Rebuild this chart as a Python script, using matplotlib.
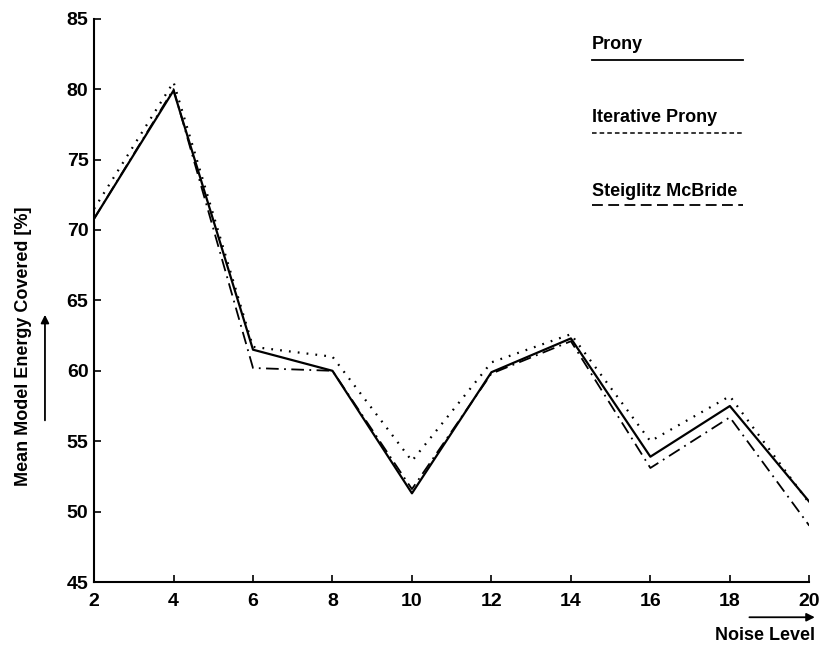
import matplotlib
matplotlib.use("Agg")
import matplotlib.pyplot as plt
from matplotlib.lines import Line2D

plt.rcParams['font.family'] = ['Liberation Sans', 'DejaVu Sans']
plt.rcParams['font.weight'] = 'bold'

noise_level = [2, 4, 6, 8, 10, 12, 14, 16, 18, 20]
prony = [70.8, 79.9, 61.5, 60.0, 51.3, 59.9, 62.3, 53.9, 57.5, 50.7]
iterative_prony = [71.5, 80.5, 61.7, 61.0, 53.6, 60.6, 62.6, 55.0, 58.2, 50.6]
steiglitz_mcbride = [70.8, 80.0, 60.2, 60.0, 51.6, 59.8, 62.1, 53.1, 56.7, 49.0]
x_ticks = [2, 4, 6, 8, 10, 12, 14, 16, 18, 20]
y_ticks = [45, 50, 55, 60, 65, 70, 75, 80, 85]

solid = '-'
dotted = (0, (0.8, 3.2))
dashdot = (0, (7, 3, 1, 3))

fig = plt.figure(figsize=(8.25, 6.46), dpi=100)
ax = fig.add_axes([0.114, 0.099, 0.867, 0.872])

ax.plot(noise_level, prony, color='black', lw=1.6, linestyle=solid)
ax.plot(noise_level, iterative_prony, color='black', lw=1.6, linestyle=dotted)
ax.plot(noise_level, steiglitz_mcbride, color='black', lw=1.3, linestyle=dashdot)

ax.set_xlim(2, 20)
ax.set_ylim(45, 85)
ax.set_xticks(x_ticks)
ax.set_yticks(y_ticks)
ax.tick_params(direction='in', length=5, width=1.2, labelsize=14, pad=4)
ax.tick_params(axis='x', pad=8)
for lab in ax.get_xticklabels() + ax.get_yticklabels():
    lab.set_fontweight('bold')
for s in ['top', 'right']:
    ax.spines[s].set_visible(False)
for s in ['left', 'bottom']:
    ax.spines[s].set_linewidth(1.5)

# legend (text above sample line)
leg = [("Prony", solid, 1.3, 0.954, 0.926),
       ("Iterative Prony", (0, (3, 2)), 1.1, 0.824, 0.797),
       ("Steiglitz McBride", (0, (6, 3)), 1.3, 0.693, 0.669)]
for name, ls, lw, ty, ly in leg:
    ax.text(0.6965, ty, name, transform=ax.transAxes, fontsize=13,
            fontweight='bold', va='center', ha='left')
    ax.add_line(Line2D([0.6965, 0.9077], [ly, ly], transform=ax.transAxes,
                       color='black', lw=lw, linestyle=ls))

# axis labels with arrows
fig.text(0.028, 0.464, "Mean Model Energy Covered [%]", rotation=90,
         fontsize=13, fontweight='bold', ha='center', va='center')
fig.patches.append(matplotlib.patches.FancyArrowPatch(
    (0.0545, 0.345), (0.0545, 0.517), transform=fig.transFigure,
    arrowstyle='-|>', mutation_scale=12, color='black', lw=1.3))
fig.text(0.988, 0.017, "Noise Level", fontsize=13, fontweight='bold',
         ha='right', va='center')
fig.patches.append(matplotlib.patches.FancyArrowPatch(
    (0.905, 0.0445), (0.991, 0.0445), transform=fig.transFigure,
    arrowstyle='-|>', mutation_scale=12, color='black', lw=1.3))

fig.savefig('out.png', dpi=100)
